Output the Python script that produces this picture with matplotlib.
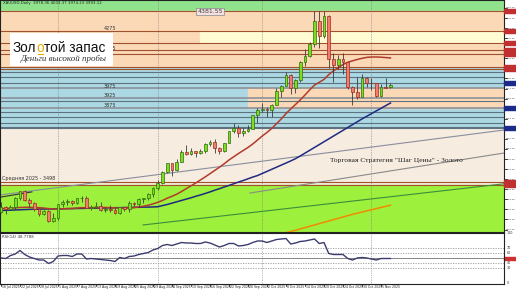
import matplotlib
matplotlib.use("Agg")
import matplotlib.pyplot as plt
from matplotlib.patches import Rectangle
import matplotlib.transforms as mtrans
import pandas as pd

# XAUUSD daily bars, 16 Jul 2025 .. 7 Nov 2025
opens = [3324, 3347, 3339, 3350, 3397, 3431, 3387, 3368, 3337, 3314,
         3326, 3275, 3289, 3362, 3373, 3380, 3369, 3396, 3398, 3343,
         3348, 3356, 3335, 3336, 3332, 3315, 3347, 3339, 3371, 3365,
         3393, 3397, 3416, 3448, 3476, 3533, 3578, 3545, 3586, 3636,
         3626, 3641, 3634, 3643, 3679, 3690, 3659, 3644, 3685, 3746,
         3763, 3736, 3749, 3760, 3833, 3858, 3866, 3857, 3886, 3961,
         3985, 4041, 3975, 4018, 4110, 4142, 4208, 4326, 4251, 4356,
         4125, 4095, 4126, 4112, 3982, 3952, 3930, 4025, 4002, 4000,
         3932, 3980, 3978.36]
highs = [3377, 3352, 3361, 3402, 3434, 3439, 3394, 3373, 3345, 3334,
         3334, 3315, 3363, 3385, 3390, 3384, 3398, 3409, 3404, 3358,
         3374, 3375, 3347, 3358, 3345, 3351, 3350, 3379, 3376, 3394,
         3398, 3423, 3454, 3489, 3540, 3581, 3580, 3600, 3646, 3674,
         3657, 3644, 3655, 3685, 3703, 3707, 3664, 3686, 3749, 3791,
         3779, 3762, 3782, 3834, 3872, 3895, 3875, 3889, 3977, 3990,
         4059, 4046, 4022, 4116, 4179, 4218, 4380, 4379, 4381.55, 4359,
         4161, 4146, 4161, 4115, 3988, 4031, 4046, 4034, 4030, 4002,
         3994, 4029, 4003.37]
lows = [3319, 3310, 3332, 3340, 3383, 3381, 3351, 3325, 3301, 3308,
        3268, 3268, 3281, 3346, 3357, 3358, 3365, 3376, 3341, 3331,
        3345, 3330, 3323, 3323, 3311, 3312, 3325, 3321, 3352, 3351,
        3369, 3386, 3402, 3436, 3470, 3525, 3511, 3537, 3583, 3620,
        3620, 3613, 3630, 3633, 3671, 3631, 3628, 3640, 3683, 3739,
        3717, 3721, 3741, 3757, 3793, 3850, 3820, 3822, 3884, 3930,
        3983, 3945, 3948, 4008, 4093, 4136, 4193, 4185, 4238, 4082,
        4004, 4075, 4047, 3971, 3886, 3917, 3929, 3979, 3963, 3929,
        3930, 3975, 3974.23]
closes = [3347, 3339, 3350, 3397, 3431, 3387, 3368, 3337, 3314, 3326,
          3275, 3289, 3362, 3373, 3380, 3369, 3396, 3398, 3343, 3348,
          3356, 3335, 3336, 3332, 3315, 3347, 3339, 3371, 3365, 3393,
          3397, 3416, 3448, 3476, 3533, 3578, 3545, 3586, 3636, 3626,
          3641, 3634, 3643, 3679, 3690, 3659, 3644, 3685, 3746, 3763,
          3736, 3749, 3760, 3833, 3858, 3866, 3857, 3886, 3961, 3985,
          4041, 3975, 4018, 4110, 4142, 4208, 4326, 4251, 4356, 4125,
          4095, 4126, 4112, 3982, 3952, 3930, 4025, 4002, 4000, 3932,
          3980, 3977, 3993.12]

# moving averages
ma_fast = [3340, 3341, 3342, 3344, 3346, 3347, 3347, 3346, 3345, 3343,
           3340, 3338, 3338, 3339, 3340, 3341, 3343, 3345, 3345, 3345,
           3346, 3346, 3346, 3345, 3344, 3343, 3343, 3344, 3345, 3349,
           3353, 3358, 3365, 3373, 3383, 3395, 3405, 3416, 3430, 3445,
           3460, 3475, 3491, 3507, 3524, 3541, 3558, 3576, 3596, 3613,
           3630, 3646, 3662, 3680, 3701, 3722, 3741, 3762, 3787, 3812,
           3840, 3865, 3888, 3912, 3938, 3965, 3990, 4005, 4020, 4045,
           4065, 4082, 4098, 4110, 4118, 4125, 4131, 4136, 4138, 4138,
           4137, 4135, 4133]
ma_slow = [3330, 3331, 3332, 3333, 3334, 3335, 3336, 3337, 3337, 3338,
           3338, 3338, 3339, 3339, 3340, 3340, 3341, 3341, 3342, 3342,
           3343, 3343, 3344, 3344, 3345, 3345, 3346, 3346, 3347, 3347,
           3348, 3348, 3349, 3350, 3356, 3362, 3369, 3376, 3383, 3390,
           3397, 3405, 3412, 3420, 3428, 3437, 3445, 3454, 3462, 3471,
           3480, 3488, 3497, 3506, 3514, 3525, 3536, 3547, 3558, 3569,
           3580, 3591, 3603, 3617, 3632, 3647, 3662, 3677, 3692, 3707,
           3722, 3737, 3752, 3767, 3782, 3797, 3812, 3826, 3840, 3854,
           3868, 3882, 3896]
ma_long_start = 60
ma_long = [3213, 3220, 3226, 3233, 3240, 3247, 3254, 3261, 3268, 3275,
           3282, 3289, 3296, 3303, 3310, 3316, 3322, 3328, 3334, 3340,
           3346, 3352, 3358]

rsi = [50, 49, 55, 58, 65, 57, 52, 49, 46, 46,
       39, 43, 54, 55, 55, 53, 58, 58, 48, 49,
       48, 47, 46, 45, 43, 51, 49, 53, 54, 57,
       59, 61, 66, 69, 75, 77, 75, 78, 81, 80,
       80, 79, 79, 82, 80, 76, 72, 75, 79, 79,
       74, 75, 77, 81, 84, 84, 81, 84, 87, 88,
       89, 78, 80, 83, 84, 86, 88, 79, 81, 59,
       57, 57, 57, 49, 46, 50, 51, 50, 48, 46,
       49, 49, 49]

# horizontal levels
brown_levels = [4380, 4275, 4212, 4175, 4154, 4085, 4075, 3482, 3464]
slate_levels = [4059, 4033, 4001, 3907, 3849, 3822, 3791, 3770, 3764]
grey_levels = [3975, 3922, 3870]
level_labels = ["4275", "4175", "3975", "3925", "3875"]
level_label_prices = [4286, 4184, 3985, 3934, 3885]

dates = pd.bdate_range("2025-07-16", periods=len(closes))
n = len(closes)
x = list(range(n))

W, H = 516, 290
fig = plt.figure(figsize=(W / 100, H / 100), dpi=100)
fig.patch.set_facecolor("white")


def fx(px):
    return px / W


def fy(py):
    return 1 - py / H


# ---------- main price panel ----------
ax = fig.add_axes([0, fy(232), fx(504), 232 / H])
ax.set_xlim(-0.21, 105.9)
ax.set_ylim(3217, 4438)

ax.axhspan(4380, 4440, color="#90e38c", zorder=0)
ax.axhspan(4080, 4380, color="#fbd9b7", zorder=0)
ax.add_patch(Rectangle((42, 4212), 70, 63, color="#fffbd3", zorder=0.5))
ax.axhspan(3764, 4080, color="#abd8e2", zorder=0)
ax.add_patch(Rectangle((52, 3870), 60, 105, color="#fbd9b7", zorder=0.5))
ax.axhspan(3464, 3764, color="#f6ecdf", zorder=0)
ax.axhspan(3200, 3464, color="#9df03c", zorder=0)

for p in brown_levels:
    ax.axhline(p, color="#a0522d", lw=0.8, zorder=1)
for p in slate_levels:
    ax.axhline(p, color="#5f7282", lw=0.8, zorder=1)
for p in grey_levels:
    ax.axhline(p, color="#8c9298", lw=1.2, zorder=1)

for lab, p in zip(level_labels, level_label_prices):
    ax.text(23, p, lab, fontsize=3.5, color="#333333", ha="center", va="center", zorder=2)

# month separators
for i in [12, 33, 55, 78]:
    ax.axvline(i, color="#777777", lw=0.5, ls=(0, (1, 1.5)), zorder=1)

# trend lines
ax.plot([-0.2, 106], [3412, 3754], color="#8a8ea0", lw=0.8, zorder=2)
ax.plot([52.4, 106], [3422, 3633], color="#8a8a8a", lw=0.8, zorder=2)
ax.plot([29.9, 106], [3254, 3471], color="#3c8c3c", lw=0.8, zorder=2)
ax.plot([0, 6.5], [3401, 3428], color="#333333", lw=0.8, zorder=2)

# moving averages
ax.plot(x, ma_slow, color="#1f2a80", lw=1.1, zorder=3)
ax.plot(x, ma_fast, color="#b23a2a", lw=1.1, zorder=3)
ax.plot(range(ma_long_start, ma_long_start + len(ma_long)), ma_long,
        color="#f08a00", lw=1.1, zorder=3)

# candles
bull = [c >= o for o, c in zip(opens, closes)]
ax.vlines(x, lows, highs, color="#3a3a3a", lw=0.6, zorder=4)
bottoms = [min(o, c) for o, c in zip(opens, closes)]
heights = [max(abs(c - o), 1.5) for o, c in zip(opens, closes)]
ax.bar(x, heights, bottom=bottoms, width=0.62,
       color=["#7ede1e" if b else "#f07d6e" for b in bull],
       edgecolor=["#2e6e10" if b else "#9e2a20" for b in bull],
       linewidth=0.5, zorder=5)

ax.text(44, 4376, "4381.55", fontsize=4.5, color="#444444", ha="center", va="center",
        bbox=dict(boxstyle="square,pad=0.15", fc="#f4e0e0", ec="#888888", lw=0.5), zorder=6)
ax.text(0.3, 3500, "Средняя 2025 - 3498", fontsize=3.5, color="#333333",
        ha="left", va="center", zorder=6)
ax.text(69.3, 3594, "Торговая Стратегия \"Шаг Цены\" - Золото", fontsize=5.4,
        family="Liberation Serif", color="#222222", ha="left", va="center", zorder=6)

for s in ax.spines.values():
    s.set_color("#222222")
    s.set_linewidth(0.8)
ax.set_xticks([])
ax.set_yticks([])

# right price scale
tr = mtrans.blended_transform_factory(ax.transAxes, ax.transData)
for p in range(3230, 4430, 53):
    ax.plot([1.0, 1.005], [p, p], color="black", lw=0.5, transform=tr, clip_on=False)
    ax.text(1.003, p, f"{p:.2f}", fontsize=1.7, color="#333333", va="center",
            transform=tr, clip_on=False)
right_marks = brown_levels + [4001, 3870, 3764]
right_cols = ["#c03030"] * len(brown_levels) + ["#1c2a8a", "#1c2a8a", "#1c2a8a"]
for p, c in zip(right_marks, right_cols):
    ax.add_patch(Rectangle((1.0, p - 9), 0.03, 18, color=c, transform=tr,
                           clip_on=False, zorder=7))

# ---------- RSI panel ----------
ax2 = fig.add_axes([0, fy(284), fx(504), 51 / H])
ax2.set_xlim(-0.21, 105.9)
ax2.set_ylim(-2, 100)
for lvl in [70, 60, 40, 30]:
    ax2.axhline(lvl, color="#999999", lw=0.6, ls=(0, (1.5, 1.5)))
ax2.axhline(50, color="#888888", lw=0.7)
for i in [12, 33, 55, 78]:
    ax2.axvline(i, color="#777777", lw=0.5, ls=(0, (1, 1.5)))
ax2.plot(x, rsi, color="#3c3c6e", lw=1.0)
ax2.text(0.3, 97, "RSI(14) 48.7788", fontsize=2.8, color="#333333", va="top")
ax2.set_xticks([])
ax2.set_yticks([])
for s in ax2.spines.values():
    s.set_color("#222222")
    s.set_linewidth(0.8)
tr2 = mtrans.blended_transform_factory(ax2.transAxes, ax2.transData)
for lvl in [100, 70, 60, 40, 30, 0]:
    ax2.text(1.006, lvl, str(lvl), fontsize=2.4, color="#333333", va="center",
             transform=tr2, clip_on=False)
ax2.add_patch(Rectangle((1.0, 45.5), 0.03, 6, color="#d03030", transform=tr2, clip_on=False))

# date axis
for i in range(0, n, 4):
    d = dates[i]
    lab = f"{d.day} {d.strftime('%b %Y')}"
    ax2.plot([i, i], [-2, -5], color="black", lw=0.5, clip_on=False)
    ax2.text(i + 0.25, -7.5, lab, fontsize=2.25, color="#222222", ha="left", va="center",
             clip_on=False)

# header
fig.text(fx(3), fy(3), "XAUUSD,Daily  3978.36 4003.37 3974.23 3993.12",
         fontsize=2.8, color="#222222", va="center")

# logo
fig.add_artist(Rectangle((fx(10), fy(66)), 103 / W, 33 / H, transform=fig.transFigure,
                         facecolor="white", edgecolor="none", zorder=10))
t1 = fig.text(fx(13), fy(52), "Зол", fontsize=9.8, family="Liberation Sans",
              color="#111111", zorder=11)
t2 = fig.text(0, 0, "о", fontsize=9.8, family="Liberation Sans", color="#e0a800", zorder=11)
fig.canvas.draw()
r = fig.canvas.get_renderer()
bb1 = t1.get_window_extent(r)
t2.set_position((bb1.x1 / W, fy(52)))
fig.canvas.draw()
bb2 = t2.get_window_extent(r)
fig.text(bb2.x1 / W, fy(52), "той запас", fontsize=9.8, family="Liberation Sans",
         color="#111111", zorder=11)
fig.add_artist(plt.Line2D([bb2.x0 / W + 0.002, bb2.x1 / W - 0.002], [fy(53.5), fy(53.5)],
                          transform=fig.transFigure, color="#e0a800", lw=0.8, zorder=11))
fig.text(fx(107), fy(61), "Деньги высокой пробы", fontsize=6.5, family="Liberation Serif",
         style="italic", color="#333333", ha="right", va="baseline", zorder=11)

fig.savefig("out.png", dpi=100, facecolor="white")
